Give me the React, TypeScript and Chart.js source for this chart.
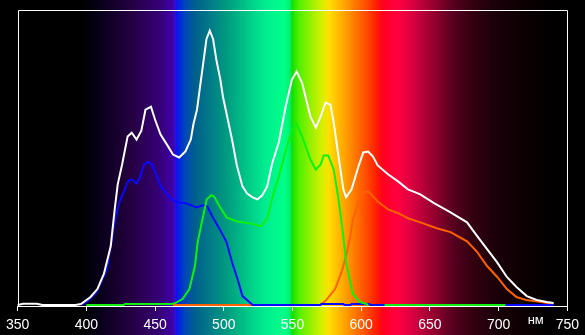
import React, { useEffect, useRef } from 'react';
import { Chart, registerables } from 'chart.js';

Chart.register(...registerables);

// ---- Data (wavelength in nm, relative intensity 0..100) ----
const X_MIN = 350;
const X_MAX = 750;
const X_STEP = 50;
const Y_MIN = -0.35;
const Y_MAX = 100;
const UNIT_LABEL = 'нм';

const whiteNm = [350, 354, 364, 368, 392, 396, 403, 408, 412.7, 417.7, 420.6, 422.8, 426, 430, 433, 436.5, 440, 443, 447, 450, 454, 459, 463, 467.5, 472, 476, 478, 480.5, 482.6, 485, 487.4, 489.8, 492.2, 494.6, 497.5, 499.4, 501.4, 506, 509.5, 513.6, 517, 521, 524.5, 528, 531.6, 535, 540, 545, 549.6, 553, 557, 563, 567, 570.5, 574, 577.6, 580, 583.5, 587, 589, 593, 598, 601.5, 605, 608.6, 612, 619.5, 626.8, 634, 643, 653, 665, 677, 684, 691.6, 698.8, 706, 713, 720.5, 727.7, 735, 740];
const whiteVal = [0, 0.4, 0.4, 0, 0, 0.3, 2.7, 5.4, 10.5, 19.9, 32.4, 40.9, 47.6, 57.1, 58.4, 56.1, 59.1, 66.2, 67.2, 62.8, 57.8, 54.1, 51.0, 50.0, 52.0, 56.1, 61.5, 66.2, 73.6, 81.8, 90.2, 93.0, 90.2, 83.1, 76.4, 70.6, 66.2, 56.1, 47.3, 40.2, 37.8, 36.5, 35.8, 37.2, 40.2, 47.6, 55.1, 67.2, 76.4, 79.1, 75.3, 63.9, 60.1, 63.9, 68.6, 67.9, 61.8, 50.3, 39.2, 36.5, 39.2, 47.0, 51.7, 52.0, 50.3, 47.3, 44.3, 41.9, 39.2, 37.5, 34.5, 31.4, 28.0, 23.6, 18.9, 14.5, 9.5, 6.1, 3.0, 1.7, 1.0, 0.7];

const blueNm = [396, 401, 407, 410.5, 415, 418, 421, 424, 428, 430.7, 433, 436.5, 439, 442, 445, 448, 451.6, 454.5, 459, 462, 466.8, 471.8, 475, 480, 484.8, 488, 492, 497, 502, 506, 510, 513.6, 518.6, 521, 570, 571, 587, 588, 592, 593, 606, 607, 740];
const blueVal = [0, 1.4, 4.1, 7.4, 12.2, 20.6, 29.1, 34.8, 39.2, 42.2, 42.6, 41.2, 43.2, 47.6, 48.6, 47.6, 43.2, 39.9, 37.5, 35.8, 34.8, 34.5, 34.1, 33.1, 33.8, 33.4, 29.7, 25.7, 21.3, 14.5, 8.8, 3.0, 1.0, 0, 0, 0.3, 0.3, 0, 0, 0.3, 0.3, 0, 0];

const greenNm = [400, 427, 428, 462, 465, 470, 475, 479, 481, 484, 487.6, 491, 493, 497, 502, 509, 518.6, 527, 531.6, 535, 538, 540, 545, 549.6, 553, 557, 563, 567, 570.5, 572.7, 576, 580, 583.5, 587, 589, 592, 594, 599, 604, 605];
const greenVal = [0, 0, 0.3, 0.3, 0.7, 2.0, 5.4, 13.2, 21.3, 28.0, 35.8, 37.2, 36.8, 33.4, 29.7, 28.4, 27.7, 26.7, 29.1, 35.8, 40.5, 43.2, 52.4, 59.1, 61.5, 57.1, 49.3, 45.9, 47.6, 50.7, 50.7, 45.9, 35.8, 23.3, 14.5, 7.8, 3.7, 1.0, 0.3, -0.3];
// green baseline tail (drawn above blue)
const greenTailNm = [617, 705];
const greenTailVal = [0, 0];

const orangeNm = [463, 570, 574, 581, 585.7, 589, 592, 594, 598, 601.5, 605, 608.6, 612, 619.5, 627, 634, 643, 655, 665, 677, 684, 691.6, 699, 706, 713, 720, 731, 740];
const orangeVal = [0, 0, 1.4, 5.4, 11.1, 16.6, 23.3, 29.1, 34.8, 38.2, 38.5, 36.8, 35.1, 32.4, 31.1, 29.4, 28.0, 26.0, 24.7, 21.6, 18.2, 13.2, 9.5, 5.4, 2.7, 1.7, 1.0, 0.3];

// Spectrum background colour stops (nm -> colour)
const spectrumNm = [350, 396, 410.5, 432, 454, 463, 464.6, 465.5, 469, 472, 479, 504, 520, 530, 544, 548.2, 549.6, 554.7, 565.5, 572, 576.3, 587, 601.5, 610.9, 615.9, 626.8, 637.6, 652, 666.4, 680.8, 698.8, 720.5, 742, 750];
const spectrumColors = ['#000000', '#000000', '#08001a', '#240040', '#360078', '#4000a8', '#3010d0', '#1010f0', '#0030d0', '#0048b8', '#005f8c', '#00a080', '#00d088', '#00ec90', '#00ff88', '#00f070', '#10e000', '#50f000', '#a8f000', '#d8f000', '#ffe000', '#ffa800', '#ff5800', '#ff2000', '#ff0020', '#ff0040', '#d80040', '#980030', '#580020', '#340010', '#1a0008', '#0a0002', '#000000', '#000000'];

const toPoints = (xs: number[], ys: number[]) => xs.map((x, i) => ({ x, y: ys[i] }));

const spectrumPlugin = {
  id: 'spectrum',
  beforeDraw(chart: any) {
    const { ctx, width, height, scales } = chart;
    const xs = scales.x;
    ctx.save();
    ctx.fillStyle = '#000';
    ctx.fillRect(0, 0, width, height);
    const x0 = xs.getPixelForValue(X_MIN);
    const x1 = xs.getPixelForValue(X_MAX);
    const g = ctx.createLinearGradient(x0, 0, x1, 0);
    spectrumNm.forEach((nm, i) => {
      g.addColorStop((nm - X_MIN) / (X_MAX - X_MIN), spectrumColors[i]);
    });
    ctx.fillStyle = g;
    ctx.fillRect(x0, 0, x1 - x0, height);
    ctx.restore();
  },
};

const framePlugin = {
  id: 'frame',
  beforeDatasetsDraw(chart: any) {
    const { ctx, chartArea } = chart;
    const l = Math.round(chartArea.left) + 0.5;
    const r = Math.round(chartArea.right) + 0.5;
    const t = Math.round(chartArea.top) + 0.5;
    const b = Math.round(chartArea.bottom) + 0.5;
    ctx.save();
    ctx.strokeStyle = '#ffffff';
    ctx.lineWidth = 1;
    ctx.beginPath();
    ctx.moveTo(l, b);
    ctx.lineTo(l, t);
    ctx.lineTo(r, t);
    ctx.lineTo(r, b);
    ctx.stroke();
    ctx.restore();
  },
  afterDraw(chart: any) {
    const { ctx, chartArea, scales } = chart;
    ctx.save();
    ctx.fillStyle = '#ffffff';
    ctx.font = '13px "Liberation Sans", Arial, sans-serif';
    ctx.textAlign = 'center';
    ctx.textBaseline = 'alphabetic';
    ctx.fillText(UNIT_LABEL, scales.x.getPixelForValue(727), chartArea.bottom + 17.5);
    ctx.restore();
  },
};

export default function App() {
  const ref = useRef<HTMLCanvasElement>(null);
  useEffect(() => {
    if (!ref.current) return;
    const chart = new Chart(ref.current, {
      type: 'line',
      data: {
        datasets: [
          { data: toPoints(whiteNm, whiteVal), borderColor: '#ffffff' },
          { data: toPoints(greenNm, greenVal), borderColor: '#10f010' },
          { data: toPoints(greenTailNm, greenTailVal), borderColor: '#10f010' },
          { data: toPoints(blueNm, blueVal), borderColor: '#0a0aff' },
          { data: toPoints(orangeNm, orangeVal), borderColor: '#ff6000' },
        ].map((d) => ({ ...d, borderWidth: 2, pointRadius: 0, tension: 0, fill: false, clip: false as any })),
      },
      options: {
        animation: false,
        responsive: false,
        devicePixelRatio: 1,
        layout: { padding: { left: 16, right: 14, top: 10, bottom: 0 } },
        plugins: { legend: { display: false }, tooltip: { enabled: false } },
        scales: {
          x: {
            type: 'linear',
            min: X_MIN,
            max: X_MAX,
            ticks: {
              stepSize: X_STEP,
              color: '#ffffff',
              padding: 6,
              font: { size: 14, family: '"Liberation Sans Narrow", "Liberation Sans", Arial, sans-serif', lineHeight: 1.2 },
            },
            grid: { display: true, drawOnChartArea: false, drawTicks: true, tickLength: 5, color: '#ffffff', lineWidth: 1 },
            border: { display: true, color: '#ffffff', width: 1 },
            afterFit: (scale: any) => { scale.height = 29; },
          },
          y: { min: Y_MIN, max: Y_MAX, display: false },
        },
      },
      plugins: [spectrumPlugin, framePlugin],
    });
    return () => chart.destroy();
  }, []);
  return (
    <div style={{ position: 'fixed', left: 0, top: 0, width: 585, height: 335, background: '#000' }}>
      <canvas ref={ref} width={585} height={335} style={{ display: 'block' }} />
    </div>
  );
}
